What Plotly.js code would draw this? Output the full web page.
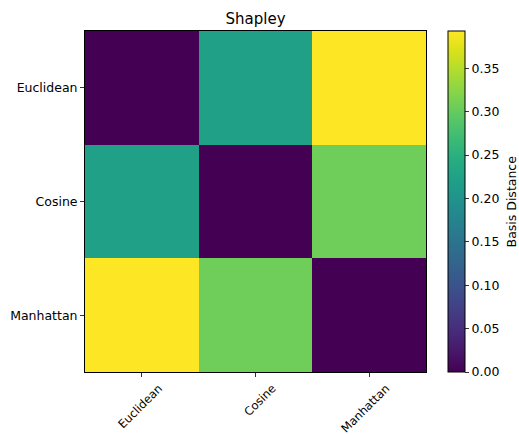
<!DOCTYPE html>
<html><head><meta charset="utf-8">
<script src="https://cdn.plot.ly/plotly-3.0.1.min.js"></script>
<style>body{margin:0;background:#fff}#c{width:519px;height:435px}</style>
</head><body><div id="c"></div>
<script>
const xLabels = ["Euclidean", "Cosine", "Manhattan"];
const yLabels = ["Euclidean", "Cosine", "Manhattan"];
const rowEuclidean = [0.0, 0.224, 0.393];
const rowCosine = [0.224, 0.0, 0.306];
const rowManhattan = [0.393, 0.306, 0.0];
const cbTicks = [0, 0.05, 0.10, 0.15, 0.20, 0.25, 0.30, 0.35];
const cbTitle = "Basis Distance";

const font = {family: "DejaVu Sans", size: 12.5, color: "#000"};
const xfont = {family: "DejaVu Sans", size: 11.6, color: "#000"};
const trace = {
  type: "heatmap",
  x: xLabels, y: yLabels,
  z: [rowEuclidean, rowCosine, rowManhattan],
  colorscale: "Viridis",
  zmin: 0, zmax: 0.393,
  xgap: 0, ygap: 0,
  hoverinfo: "none",
  colorbar: {
    x: 1.0645, xanchor: "left", xref: "paper",
    y: 0.5, yanchor: "middle", len: 1, lenmode: "fraction",
    thickness: 17, thicknessmode: "pixels",
    outlinewidth: 1, outlinecolor: "#000",
    ticks: "outside", ticklen: 4, tickwidth: 0.8, tickcolor: "#000",
    tickvals: cbTicks, tickformat: ".2f",
    tickfont: font, xpad: 0, ypad: 0
  }
};
const layout = {
  width: 519, height: 435,
  margin: {l: 85, r: 93, t: 31, b: 63},
  paper_bgcolor: "#fff", plot_bgcolor: "#fff",
  title: {text: "Shapley", font: {family: "DejaVu Sans", size: 15, color: "#000"}, x: 0.4925, xanchor: "center", y: 0.958, yanchor: "middle", yref: "container"},
  annotations: [{text: cbTitle, xref: "paper", yref: "paper", x: 1.252, y: 0.5,
                 xanchor: "center", yanchor: "middle", textangle: -90, showarrow: false, font: font}],
  xaxis: {type: "category", showline: true, mirror: true, linecolor: "#000", linewidth: 1,
          ticks: "outside", ticklen: 4, tickwidth: 0.8, tickcolor: "#000",
          tickangle: -45, tickfont: xfont, ticklabelshift: 17, ticklabelstandoff: 0,
          showgrid: false, zeroline: false, fixedrange: true},
  yaxis: {type: "category", autorange: "reversed", showline: true, mirror: true, linecolor: "#000", linewidth: 1,
          ticks: "outside", ticklen: 4, tickwidth: 0.8, tickcolor: "#000",
          tickfont: font, showgrid: false, zeroline: false, fixedrange: true}
};
Plotly.newPlot("c", [trace], layout, {displayModeBar: false, staticPlot: true});
</script></body></html>
